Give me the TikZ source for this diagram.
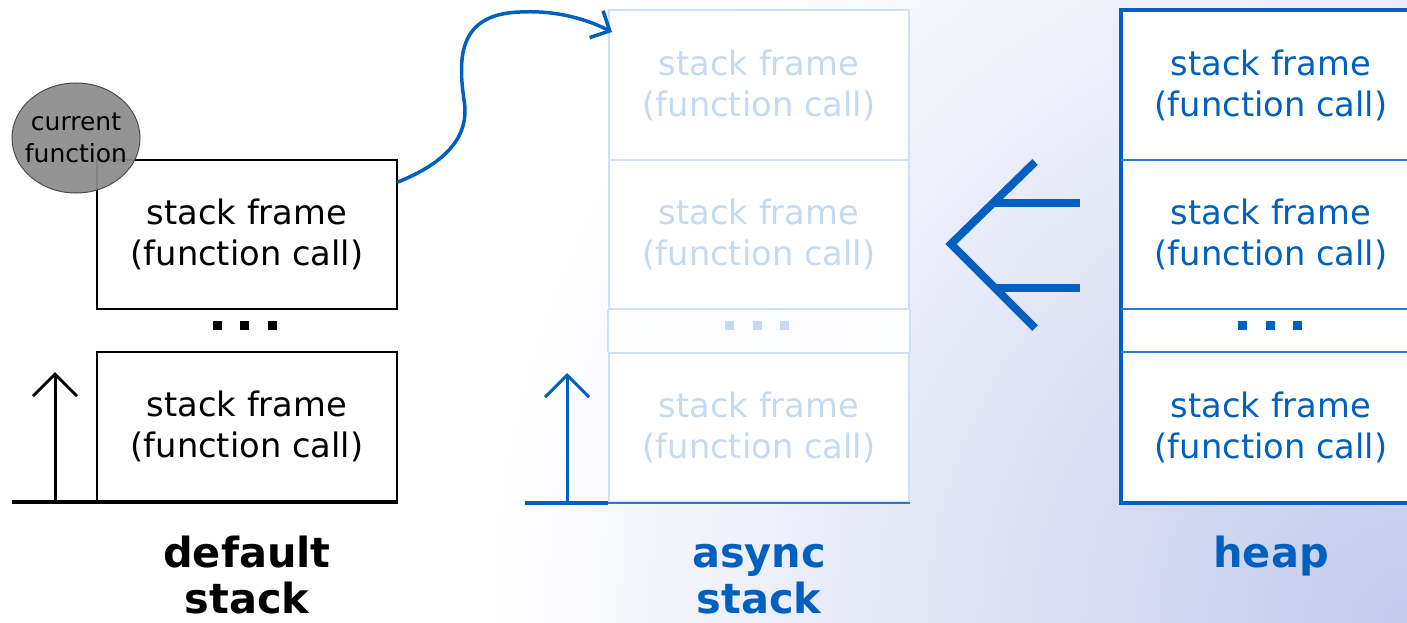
\documentclass[tikz,border=0pt]{standalone}
\usepackage{fontspec}
\setmainfont{DejaVu Sans}
\usetikzlibrary{arrows.meta,shapes.geometric}
\definecolor{bl}{HTML}{0060C0}
\definecolor{blthin}{HTML}{2C78CC}
\definecolor{faint}{HTML}{CFE0F3}
\definecolor{fainttext}{HTML}{C6DAEF}
\definecolor{bgA}{HTML}{C3CAEB}
\definecolor{ovalfill}{HTML}{8C8C8C}
\tikzset{
  framebox/.style={draw=#1, line width=2, fill=white, minimum width=300, minimum height=149,
    inner sep=0, align=center, font=\fontsize{33.7}{41}\selectfont},
  frametext/.style={inner sep=0, align=center, text=#1, font=\fontsize{33.7}{41}\selectfont},
  caption/.style={inner sep=0, align=center, anchor=base, text=#1,
    font=\fontsize{41.5}{46}\selectfont\bfseries},
  growth/.style={line width=3, -{Straight Barb[length=22, width=44, line width=3]}},
  base/.style={line width=4}
}
\begin{document}
\begin{tikzpicture}[x=1pt,y=-1pt]
\useasboundingbox (0,0) rectangle (1407,623);
\fill[white] (0,0) rectangle (1407,623);
% pale glow spreading out from the lower right corner
\begin{scope}
  \clip (0,0) rectangle (1407,623);
  \shade[inner color=bgA, outer color=white] (1407,623) circle (920);
\end{scope}

% ---------- default stack ----------
\node[framebox=black] (d1) at (247,234.5) {stack frame\\(function call)};
\node[framebox=black] (d2) at (247,426.5) {stack frame\\(function call)};
\foreach \cx in {217.5,244.5,272} \fill (\cx-4.5,321) rectangle (\cx+4.5,330);
\coordinate (dbase) at (12,502);
\draw[base] (dbase) -- (d2.south east);
\coordinate (dup0) at (55,502);
\coordinate (dup1) at (55,372);
\draw[growth] (dup0) -- (dup1);
\node[ellipse, draw=black!70, line width=1, fill=ovalfill, fill opacity=0.93, text opacity=1,
  minimum width=128, minimum height=110, inner xsep=-12, inner ysep=-14, align=center,
  font=\fontsize{25}{32}\selectfont] (cur) at (76,138) {current\\function};
\node[caption=black] (dlab) at (247,613) {default\\stack};

% ---------- async stack ----------
\node[framebox=faint, text=fainttext] (a1) at (759,85) {stack frame\\(function call)};
\node[framebox=faint, text=fainttext] (a2) at (759,234.5) {stack frame\\(function call)};
\node[framebox=faint, text=fainttext] (a3) at (759,427.5) {stack frame\\(function call)};
\fill[white, opacity=0.85] (a2.south west) rectangle (a3.north east);
\draw[faint, line width=1.5] (a2.south west) -- (a3.north west);
\draw[faint, line width=1.5] (a2.south east) -- (a3.north east);
\foreach \cx in {729.5,757,784.5} \fill[fainttext] (\cx-4.5,321) rectangle (\cx+4.5,330);
\coordinate (abase) at (525,503);
\draw[base, bl] (abase) -- (a3.south west);
\draw[blthin, line width=2] (a3.south west) -- (a3.south east);
\coordinate (aup0) at (567,503);
\coordinate (aup1) at (567,373);
\draw[growth, bl] (aup0) -- (aup1);
\node[caption=bl] (alab) at (759,613) {async\\stack};

% call moved from the default stack to the async stack
\coordinate (cs) at (d1.east |- 0,182);
\coordinate (ce) at (612,32);
\draw[bl, line width=3.5, line cap=round, -{Straight Barb[length=15, width=30, line width=3.5]}]
  (cs) .. controls (440,165) and (471,140) .. (464,100)
       .. controls (458,58) and (458,14) .. (520,12)
       .. controls (558,10) and (588,20) .. (ce);

% ---------- heap ----------
\node[draw=bl, line width=4, fill=white, minimum width=300, minimum height=493, inner sep=0]
  (heap) at (1271,256.5) {};
\draw[blthin, line width=2] (1121,160) -- (1421,160);
\draw[blthin, line width=2] (1121,309) -- (1421,309);
\draw[blthin, line width=2] (1121,352) -- (1421,352);
\node[frametext=bl] (h1) at (1271,85) {stack frame\\(function call)};
\node[frametext=bl] (h2) at (1271,234.5) {stack frame\\(function call)};
\node[frametext=bl] (h3) at (1271,427.5) {stack frame\\(function call)};
\foreach \cx in {1242.5,1270.5,1297} \fill[bl] (\cx-4.5,321) rectangle (\cx+4.5,330);
\node[caption=bl] (hlab) at (1271,567) {heap};

% frames copied back from the heap
\draw[bl, line width=8, line join=miter] (1035,162) -- (951,244) -- (1035,328);
\draw[bl, line width=8] (992,203) -- (1080,203);
\draw[bl, line width=8] (994,288) -- (1080,288);
\end{tikzpicture}
\end{document}
